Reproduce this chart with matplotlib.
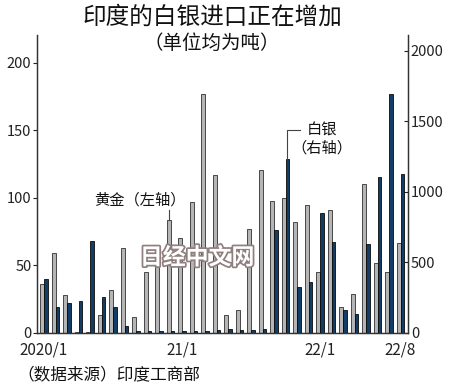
import matplotlib
matplotlib.use("Agg")
import matplotlib.pyplot as plt
import matplotlib.patheffects as pe
import numpy as np

plt.rcParams['font.family'] = ['Noto Sans CJK SC', 'DejaVu Sans']

# Monthly data, 2020/1 .. 2022/8
gold = [36, 59, 28, 1, 1, 13, 32, 63, 12, 45,
        55, 84, 70, 97, 177, 117, 13, 17, 77, 121,
        98, 100, 82, 95, 45, 91, 19, 29, 110, 52,
        45, 67]
silver = [383, 184, 213, 225, 650, 255, 184, 52, 12, 12,
          15, 15, 15, 15, 15, 20, 25, 20, 20, 25,
          733, 1234, 324, 359, 851, 648, 161, 135, 634, 1106,
          1697, 1125]
tick_pos = [0, 12, 24, 31]
tick_labels = ["2020/1", "21/1", "22/1", "22/8"]
left_ticks = [0, 50, 100, 150, 200]
right_ticks = [0, 500, 1000, 1500, 2000]

x = np.arange(len(gold))
fig = plt.figure(figsize=(4.5, 3.88), dpi=100)
ax = fig.add_axes([37/450, 1-333/388, (408-37)/450, (333-35)/388])
ax2 = ax.twinx()

w = 0.34
ax.bar(x - w/2, gold, width=w, color="#b5b5b5", edgecolor="#303030", linewidth=0.6, zorder=2)
ax2.bar(x + w/2, silver, width=w, color="#123d66", edgecolor="#0a0a0a", linewidth=0.6, zorder=2)

ax.set_xlim(-0.61, 31.65)
ax.set_ylim(0, 220.7)
ax2.set_ylim(0, 2113)

ax.set_yticks(left_ticks)
ax2.set_yticks(right_ticks)
ax.set_xticks(tick_pos)
ax.set_xticklabels(tick_labels)

for a in (ax, ax2):
    a.spines['top'].set_visible(False)
    for s in a.spines.values():
        s.set_color("#333333")
        s.set_linewidth(0.9)
ax.tick_params(axis='y', direction='out', length=3, width=0.8, labelsize=10.5, pad=1, colors="#222222")
ax2.tick_params(axis='y', direction='in', length=3, width=0.8, labelsize=10.5, pad=2, colors="#222222")
ax.tick_params(axis='x', length=0, labelsize=11, pad=6, colors="#222222")

# annotations
gx = 11 - w/2
ax.plot([gx, gx], [gold[11], 91], color="#444444", lw=0.8)
ax.text(8.3, 98.5, "黄金（左轴）", ha='center', va='center', fontsize=11, color="#111111")

sx = 21 + w/2
ax2.plot([sx, sx, 22.3], [silver[21], 1440, 1440], color="#444444", lw=0.8)
ax2.text(24.2, 1440, "白银", ha='center', va='center', fontsize=11, color="#111111")
ax2.text(24.2, 1312, "（右轴）", ha='center', va='center', fontsize=11, color="#111111")

# titles
fig.text(212/450, 1-17/388, "印度的白银进口正在增加", ha='center', va='center', fontsize=17, color="#111111")
fig.text(212/450, 1-43/388, "（单位均为吨）", ha='center', va='center', fontsize=14, color="#111111")
fig.text(17/450, 1-375/388, "（数据来源）印度工商部", ha='left', va='center', fontsize=12, color="#111111")

# watermark
fig.text(197/450, 1-258/388, "日经中文网", ha='center', va='center', fontsize=16.5, fontweight='bold',
         color="white", zorder=10,
         path_effects=[pe.withStroke(linewidth=2.5, foreground="#8f7f7f")])

fig.savefig("out.png", dpi=100)
